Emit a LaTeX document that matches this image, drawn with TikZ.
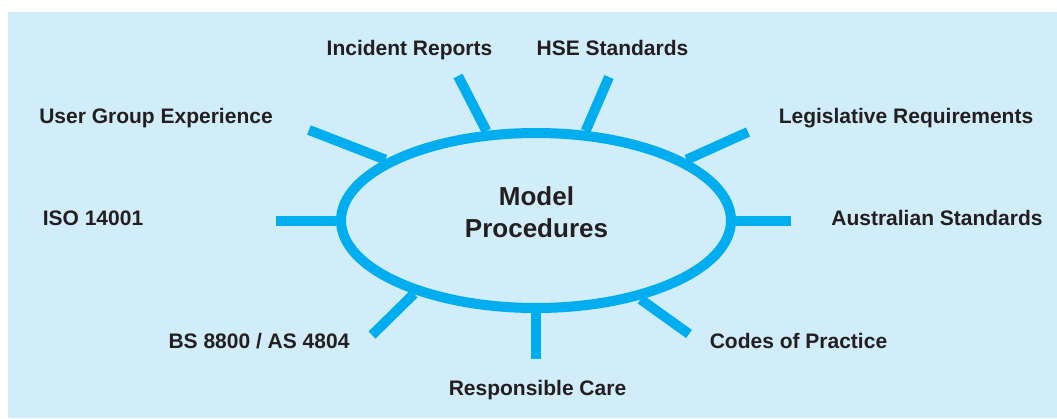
\documentclass[tikz,border=0pt]{standalone}
\usepackage{fontspec}
\setmainfont{Liberation Sans}
\usetikzlibrary{shapes.geometric}
\definecolor{spokecyan}{RGB}{0,174,239}
\definecolor{bgblue}{RGB}{209,237,250}
\definecolor{inkdark}{RGB}{35,31,32}
\tikzset{
  srclabel/.style={anchor=base, inner sep=0pt, text=inkdark, font=\fontsize{21}{25}\selectfont\bfseries},
  spoke/.style={draw=spokecyan, line width=10pt},
  hub/.style={ellipse, draw=spokecyan, line width=10pt, minimum width=390pt, minimum height=175pt,
              inner sep=0pt},
  hubtext/.style={inner sep=0pt, text=inkdark, align=center, font=\fontsize{26}{31.6}\selectfont\bfseries}
}
\begin{document}
\begin{tikzpicture}[x=1pt,y=-1pt]
\useasboundingbox (0,0) rectangle (1057,418);
\fill[bgblue] (8,12) rectangle (1057,418);

% hub
\node[hub] (mp) at (536,220.5) {};
\node[hubtext] (mptext) at (536.5,212.5) {Model\\Procedures};

% outer ends of spokes
\coordinate (eInc) at (458,76);
\coordinate (eHSE) at (609,77);
\coordinate (eUGE) at (309,130);
\coordinate (eLeg) at (748,132);
\coordinate (eISO) at (276,220.5);
\coordinate (eAus) at (791,220.5);
\coordinate (eBS)  at (372,335);
\coordinate (eRC)  at (536,359);
\coordinate (eCoP) at (689,334);

% spokes
\draw[spoke] (mp.119.6) -- (eInc);
\draw[spoke] (mp.61.3)  -- (eHSE);
\draw[spoke] (mp.158.2) -- (eUGE);
\draw[spoke] (mp.22.2)  -- (eLeg);
\draw[spoke] (mp.180)   -- (eISO);
\draw[spoke] (mp.0)     -- (eAus);
\draw[spoke] (mp.211.4) -- (eBS);
\draw[spoke] (mp.270)   -- (eRC);
\draw[spoke] (mp.323.7) -- (eCoP);

% labels
\node[srclabel] (lInc) at (409.5,55) {Incident Reports};
\node[srclabel] (lHSE) at (612.5,55) {HSE Standards};
\node[srclabel] (lUGE) at (156,123) {User Group Experience};
\node[srclabel] (lLeg) at (906,123) {Legislative Requirements};
\node[srclabel] (lISO) at (93,225) {ISO 14001};
\node[srclabel] (lAus) at (937,225) {Australian Standards};
\node[srclabel] (lBS)  at (259,348) {BS 8800 / AS 4804};
\node[srclabel] (lCoP) at (798.5,348) {Codes of Practice};
\node[srclabel] (lRC)  at (537.5,395) {Responsible Care};
\end{tikzpicture}
\end{document}
